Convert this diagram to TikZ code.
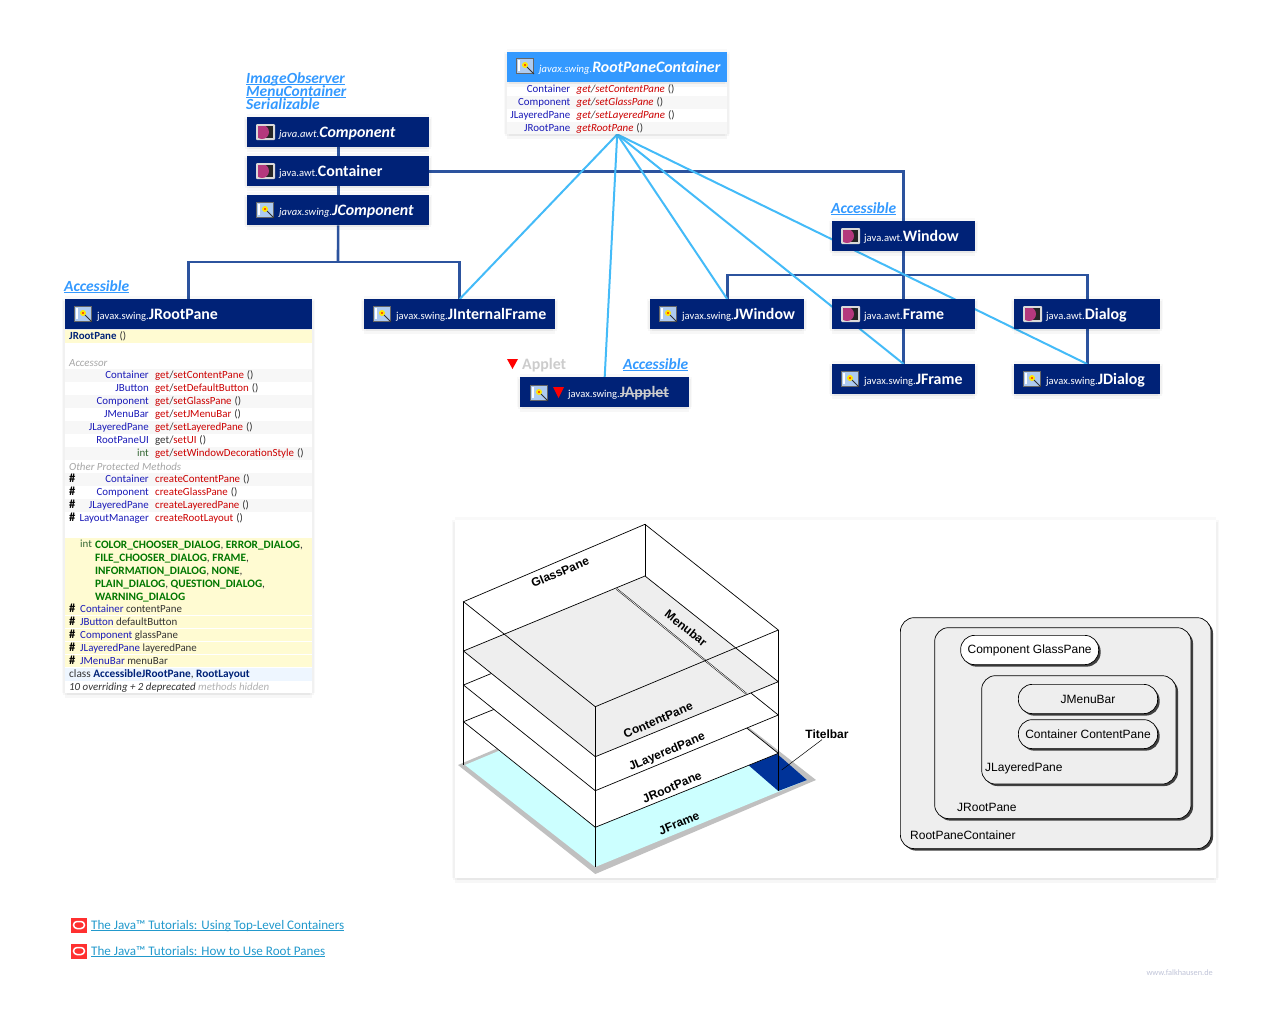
\documentclass[tikz,border=0pt]{standalone}
\usepackage{fontspec}
\setmainfont{Carlito}
\newfontfamily\pixfont{Liberation Sans}
\usetikzlibrary{shadows,backgrounds,calc,positioning}

\definecolor{headblue}{HTML}{002277}
\definecolor{ifaceblue}{HTML}{3399FF}
\definecolor{treeblue}{HTML}{2C539E}
\definecolor{implblue}{HTML}{44BBF8}
\definecolor{typeblue}{HTML}{1A1AB8}
\definecolor{methred}{HTML}{CC0000}
\definecolor{rowgray}{HTML}{F7F7F7}
\definecolor{rowyellow}{HTML}{FFFBD2}
\definecolor{rowpale}{HTML}{EEF6FF}
\definecolor{constgreen}{HTML}{007700}
\definecolor{intgreen}{HTML}{336633}
\definecolor{linkcyan}{HTML}{2299CC}
\definecolor{layergray}{HTML}{EEEEEE}
\definecolor{frameedge}{HTML}{C0C0C0}
\definecolor{framecyan}{HTML}{CCFFFF}
\definecolor{titlenavy}{HTML}{003399}
\definecolor{iconblue}{HTML}{AECBF0}
\definecolor{sitegray}{HTML}{C0C4D8}
\definecolor{tutred}{HTML}{FF3030}

\tikzset{
  softshadow/.style={
    general shadow={shadow xshift=-3pt,shadow yshift=0pt,fill=black,opacity=.025},
    general shadow={shadow xshift=3pt,shadow yshift=0pt,fill=black,opacity=.025},
    general shadow={shadow xshift=0pt,shadow yshift=3pt,fill=black,opacity=.025},
    general shadow={shadow xshift=0pt,shadow yshift=-5pt,fill=black,opacity=.03},
    general shadow={shadow xshift=-2pt,shadow yshift=-2pt,fill=black,opacity=.03},
    general shadow={shadow xshift=2pt,shadow yshift=-2pt,fill=black,opacity=.03}},
  headbox/.style={softshadow,fill=headblue,inner sep=0pt,minimum height=30pt,anchor=north west},
  bodybox/.style={softshadow,fill=white,inner sep=0pt,anchor=north west},
  headtxt/.style={anchor=base west,inner sep=0pt,text=white,font=\fontsize{15.9}{16}\selectfont},
  tree/.style={treeblue,line width=2.6pt},
  impl/.style={implblue,line width=2pt},
  typetxt/.style={anchor=base east,inner sep=0pt,text=typeblue,font=\fontsize{10.9}{13}\selectfont},
  methtxt/.style={anchor=base west,inner sep=0pt,text=methred,font=\fontsize{10.9}{13}\selectfont},
  plaintxt/.style={anchor=base west,inner sep=0pt,text=black!80,font=\fontsize{10.9}{13}\selectfont},
  hashtxt/.style={plaintxt,text=black,font=\fontsize{12.5}{13}\selectfont\bfseries},
  linklabel/.style={anchor=base west,inner sep=0pt,text=ifaceblue,font=\fontsize{15.5}{13}\selectfont\bfseries\itshape},
  tutlink/.style={anchor=base west,inner sep=0pt,text=linkcyan,font=\fontsize{13.1}{15}\selectfont},
  wire/.style={line width=.7pt,black},
  isotxt/.style={inner sep=0pt,text=black,font=\pixfont\fontsize{12}{12}\selectfont},
  pane/.style={draw=black,line width=.7pt,fill=layergray,rounded corners=14pt,inner sep=0pt,anchor=north west,
    drop shadow={shadow xshift=2pt,shadow yshift=-2pt,fill=black!75,opacity=1}},
  panetxt/.style={inner sep=0pt,text=black,font=\pixfont\fontsize{12}{14}\selectfont}
}

\newcommand{\pkgup}[1]{{\fontsize{10.6}{12}\selectfont #1}}
\newcommand{\pkgit}[1]{{\fontsize{10.6}{12}\selectfont\itshape #1}}
\newcommand{\ulink}[1]{\underline{\smash{#1}}}
\newsavebox{\strikebox}
\newcommand{\strikeout}[1]{\sbox{\strikebox}{#1}\rlap{\usebox{\strikebox}}\rule[3.5pt]{\wd\strikebox}{.8pt}}

% small class icons, x y is the top left corner
\newcommand{\iconawt}[2]{
  \fill[black!15,rounded corners=1pt] (#1,#2) rectangle +(19,16);
  \fill[black!85] (#1+2,#2+2) rectangle +(15,12);
  \begin{scope}
    \clip (#1+2,#2+2) rectangle +(15,12);
    \fill[magenta!70!black] (#1+6,#2+8) circle (7);
  \end{scope}
}
\newcommand{\iconswing}[2]{
  \fill[iconblue,draw=black!60,line width=.5pt] (#1,#2) rectangle +(17,15);
  \fill[white] (#1+1.5,#2+2) rectangle +(2,11);
  \fill[yellow!90!orange] (#1+9,#2+7) circle (3);
  \fill[red!70!orange] (#1+9,#2+7) circle (1.1);
  \draw[black!80,line width=1pt] (#1+11,#2+9) -- (#1+18,#2+16);
}
\newcommand{\classhead}[7]{% name x y width icon packagetext nametext
  \node[headbox,minimum width=#4pt] (#1) at (#2,#3) {};
  \csname icon#5\endcsname{#2+9}{#3+7}
  \node[headtxt] (#1txt) at (#2+32,#3+20) {#6#7};
}
% one accessor line of a table
\newcommand{\tablerow}[5]{% prefix y typex type method
  \node[typetxt] (#1t#2) at (#3,#2+3) {#4};
  \node[methtxt] (#1m#2) at (#3+6,#2+3) {#5};
}
\newcommand{\fieldrow}[3]{% y type name
  \fill[rowyellow] (65,#1-6) rectangle (312,#1+6);
  \node[hashtxt] (fh#1) at (69,#1+3) {\#};
  \node[plaintxt] (f#1) at (80,#1+3) {\textcolor{typeblue}{#2} #3};
}
\newcommand{\hash}[1]{\node[hashtxt] (h#1) at (69,#1+3) {\#};}
\newcommand{\pr}{\hspace{3pt}\textcolor{black!80}{()}}
\newcommand{\gs}[1]{get\textcolor{black!80}{/}set#1}

\begin{document}
\begin{tikzpicture}[x=1pt,y=-1pt,line cap=butt,line join=miter]
\useasboundingbox (0,0) rectangle (1270,1018);

%\node labels over the tree
\node[linklabel] (imgobs) at (246,83) {\ulink{ImageObserver}};
\node[linklabel] (menucont) at (246,96) {\ulink{MenuContainer}};
\node[linklabel] (serial) at (246,109) {Serializable};
\node[linklabel] (accroot) at (64,291) {\ulink{Accessible}};
\node[linklabel] (accwin) at (831,213) {\ulink{Accessible}};
\node[linklabel] (accapp) at (623,369) {\ulink{Accessible}};

\classhead{comp}{247}{117}{182}{awt}{\pkgit{java.awt.}}{\textbf{\textit{Component}}}
\classhead{cont}{247}{156}{182}{awt}{\pkgup{java.awt.}}{\textbf{Container}}
\classhead{jcomp}{247}{195}{182}{swing}{\pkgit{javax.swing.}}{\textbf{\textit{JComponent}}}
\classhead{jinternal}{364}{299}{191}{swing}{\pkgup{javax.swing.}}{\textbf{JInternalFrame}}
\classhead{jwindow}{650}{299}{154}{swing}{\pkgup{javax.swing.}}{\textbf{JWindow}}
\classhead{window}{832}{221}{143}{awt}{\pkgup{java.awt.}}{\textbf{Window}}
\classhead{frame}{832}{299}{143}{awt}{\pkgup{java.awt.}}{\textbf{Frame}}
\classhead{dialog}{1014}{299}{146}{awt}{\pkgup{java.awt.}}{\textbf{Dialog}}
\classhead{jframe}{832}{364}{143}{swing}{\pkgup{javax.swing.}}{\textbf{JFrame}}
\classhead{jdialog}{1014}{364}{146}{swing}{\pkgup{javax.swing.}}{\textbf{JDialog}}

% JApplet is deprecated, struck through
\node[headbox,minimum width=169pt] (japplet) at (520,377) {};
\iconswing{530}{385}
\fill[red] (553,387) -- (564,387) -- (558.5,398) -- cycle;
\node[headtxt] (japplettxt) at (568,397) {\pkgup{javax.swing.}\textcolor{black!20}{\strikeout{\textbf{JApplet}}}};
\fill[red] (507,359) -- (518,359) -- (512.5,369) -- cycle;
\node[headtxt,text=black!20] (applet) at (522,369) {\textbf{Applet}};

% RootPaneContainer
\node[bodybox,minimum width=220pt,minimum height=52pt] (rpcbody) at (507,82) {};
\node[headbox,fill=ifaceblue,minimum width=220pt] (rpc) at (507,52) {};
\iconswing{516}{58}
\node[headtxt] (rpctxt) at (539,72) {\pkgit{javax.swing.}\textbf{\textit{RootPaneContainer}}};
\fill[rowgray] (507,95.5) rectangle (727,108.5);
\fill[rowgray] (507,121.5) rectangle (727,134);
\tablerow{rpc}{89}{570.5}{Container}{\textit{\gs{ContentPane}}\pr}
\tablerow{rpc}{102}{570.5}{Component}{\textit{\gs{GlassPane}}\pr}
\tablerow{rpc}{115}{570.5}{JLayeredPane}{\textit{\gs{LayeredPane}}\pr}
\tablerow{rpc}{128}{570.5}{JRootPane}{\textit{getRootPane}\pr}

% JRootPane with its member table
\node[bodybox,minimum width=247pt,minimum height=364pt] (rootbody) at (65,329) {};
\classhead{jroot}{65}{299}{247}{swing}{\pkgup{javax.swing.}}{\textbf{JRootPane}}
\fill[rowyellow] (65,329.5) rectangle (312,342.5);
\node[plaintxt] (rootctor) at (69,339) {\textcolor{headblue}{\textbf{JRootPane}}\pr};
\node[plaintxt,text=black!35] (accessor) at (69,366) {\textit{Accessor}};
\foreach \ypos in {375,401,427,453,479,505}
  \fill[rowgray] (65,\ypos-6.5) rectangle (312,\ypos+6.5);
\tablerow{r}{375}{149}{Container}{\gs{ContentPane}\pr}
\tablerow{r}{388}{149}{JButton}{\gs{DefaultButton}\pr}
\tablerow{r}{401}{149}{Component}{\gs{GlassPane}\pr}
\tablerow{r}{414}{149}{JMenuBar}{\gs{JMenuBar}\pr}
\tablerow{r}{427}{149}{JLayeredPane}{\gs{LayeredPane}\pr}
\tablerow{r}{440}{149}{RootPaneUI}{\textcolor{black!80}{get/}setUI\pr}
\tablerow{r}{453}{149}{\textcolor{intgreen}{int}}{\gs{WindowDecorationStyle}\pr}
\node[plaintxt,text=black!35] (protected) at (69,470) {\textit{Other Protected Methods}};
\hash{479}\hash{492}\hash{505}\hash{518}
\tablerow{r}{479}{149}{Container}{createContentPane\pr}
\tablerow{r}{492}{149}{Component}{createGlassPane\pr}
\tablerow{r}{505}{149}{JLayeredPane}{createLayeredPane\pr}
\tablerow{r}{518}{149}{LayoutManager}{createRootLayout\pr}

\fill[rowyellow] (65,537.5) rectangle (312,602.5);
\node[plaintxt,text=intgreen] (constint) at (80,547) {int};
\node[plaintxt,anchor=north west,align=left,text=constgreen,font=\fontsize{11.3}{13}\selectfont] (consts) at (95,540.5)
  {\textbf{COLOR\_CHOOSER\_DIALOG}\textcolor{black!80}{,} \textbf{ERROR\_DIALOG}\textcolor{black!80}{,}\\
   \textbf{FILE\_CHOOSER\_DIALOG}\textcolor{black!80}{,} \textbf{FRAME}\textcolor{black!80}{,}\\
   \textbf{INFORMATION\_DIALOG}\textcolor{black!80}{,} \textbf{NONE}\textcolor{black!80}{,}\\
   \textbf{PLAIN\_DIALOG}\textcolor{black!80}{,} \textbf{QUESTION\_DIALOG}\textcolor{black!80}{,}\\
   \textbf{WARNING\_DIALOG}};
\fieldrow{609}{Container}{contentPane}
\fieldrow{622}{JButton}{defaultButton}
\fieldrow{635}{Component}{glassPane}
\fieldrow{648}{JLayeredPane}{layeredPane}
\fieldrow{661}{JMenuBar}{menuBar}
\fill[rowpale] (65,667.5) rectangle (312,680.5);
\node[plaintxt,font=\fontsize{11.3}{13}\selectfont] (nested) at (69,677) {class \textcolor{headblue}{\textbf{AccessibleJRootPane}}, \textcolor{headblue}{\textbf{RootLayout}}};
\node[plaintxt] (hidden) at (69,690) {\textit{10 overriding + 2 deprecated} \textcolor{black!30}{\textit{methods hidden}}};

% connectors
\coordinate (jbar) at (338,262);
\coordinate (wbar) at (904,275);
\begin{scope}[on background layer]
\draw[tree] (comp) -- (cont);
\draw[tree] (cont) -- (jcomp);
\draw[tree] (jcomp) -- (jbar);
\draw[tree] (jroot.north) |- (jbar) -| (jinternal.north);
\draw[tree] (cont) -| (window.north);
\draw[tree] (window) -- (frame);
\draw[tree] (frame) -- (jframe);
\draw[tree] (jwindow.north) |- (wbar) -| (dialog.north);
\draw[tree] (dialog) -- (jdialog);
\foreach \sub in {jinternal,japplet,jwindow,jframe,jdialog}
  \draw[impl] (rpcbody.south) -- (\sub.north);
\end{scope}

% picture of the panes
\node[bodybox,minimum width=761pt,minimum height=358pt] (panel) at (455,520) {};
\fill[frameedge] (458,765) -- (595.3,874) -- (816,780) -- (678,672) -- cycle;
\fill[framecyan] (465,765) -- (595.3,867) -- (807,780) -- (678,676) -- cycle;
\fill[titlenavy] (748.3,765) -- (775,752) -- (807,780) -- (778.3,791) -- cycle;
\filldraw[wire,fill=white] (463.5,721.7) -- (595.3,827.3) -- (778.3,753.3) -- (646.5,647.7) -- cycle;
\filldraw[wire,fill=white] (463.5,685) -- (595.3,790.7) -- (778.3,715) -- (646.5,609.3) -- cycle;
\filldraw[wire,fill=layergray] (463.5,651) -- (595.3,756.7) -- (778.3,681.7) -- (645,576) -- cycle;
\draw[line width=1.6pt,black] (616.7,589) -- (746.7,694);
\draw[line width=.6pt,white] (616.7,589) -- (746.7,694);
\draw[wire] (463.5,601.7) -- (645,524.3) -- (778.3,630) -- (595.3,706.7) -- cycle;
\draw[wire] (463.5,601.7) -- (463.5,765);
\draw[wire] (645,524.3) -- (645,576);
\draw[wire] (778.3,630) -- (778.3,791);
\draw[wire] (595.3,706.7) -- (595.3,867);
\node[isotxt,rotate=23] (glasstxt) at (560,572) {\textbf{GlassPane}};
\node[isotxt,rotate=-38.5] (menutxt) at (686,628) {\textbf{Menubar}};
\node[isotxt,rotate=23] (contenttxt) at (658,720) {\textbf{ContentPane}};
\node[isotxt,rotate=23] (layeredtxt) at (667,752) {\textbf{JLayeredPane}};
\node[isotxt,rotate=23] (roottxt) at (672,787) {\textbf{JRootPane}};
\node[isotxt,rotate=23] (frametxt) at (679,823) {\textbf{JFrame}};
\node[isotxt,font=\pixfont\fontsize{12}{14}\selectfont\bfseries] (titeltxt) at (827,734) {Titelbar};
\coordinate (titeltip) at (781.7,770);
\draw[line width=.5pt] (titeltxt.south) ++(-5,1) -- (titeltip);

% nested panes on the right
\node[pane,minimum width=310.7pt,minimum height=231pt] (rpcpane) at (900,617.3) {};
\node[pane,minimum width=256.4pt,minimum height=191pt] (rootpane) at (934.3,627.3) {};
\node[pane,fill=white,minimum width=138pt,minimum height=29.3pt] (glasspane) at (960.3,635) {};
\node[pane,minimum width=194.4pt,minimum height=108.4pt] (layerpane) at (981.3,675.3) {};
\node[pane,minimum width=139.3pt,minimum height=29.3pt] (menupane) at (1018,684) {};
\node[pane,minimum width=139.3pt,minimum height=29pt] (contpane) at (1018,719.3) {};
\node[panetxt] (glasslbl) at (glasspane.center) {Component GlassPane};
\node[panetxt] (menulbl) at (menupane.center) {JMenuBar};
\node[panetxt] (contlbl) at (contpane.center) {Container ContentPane};
\node[panetxt,anchor=base west] (layerlbl) at (985,771) {JLayeredPane};
\node[panetxt,anchor=base west] (rootlbl) at (957,811) {JRootPane};
\node[panetxt,anchor=base west] (rpclbl) at (910,839) {RootPaneContainer};

% tutorial links
\foreach \ypos/\nm/\txt in {925/tuta/Using Top-Level Containers,951/tutb/How to Use Root Panes}{
  \fill[tutred] (71,\ypos-7.5) rectangle +(16,15);
  \draw[white,line width=1.5pt,rounded corners=3.5pt] (73.5,\ypos-3.5) rectangle +(11,7);
  \node[tutlink] (\nm) at (91,\ypos+4) {\ulink{The Java™ Tutorials: \txt}};
}
\node[anchor=base east,inner sep=0pt,text=sitegray,font=\fontsize{8.3}{9}\selectfont] (site) at (1213,975) {www.falkhausen.de};
\end{tikzpicture}
\end{document}
